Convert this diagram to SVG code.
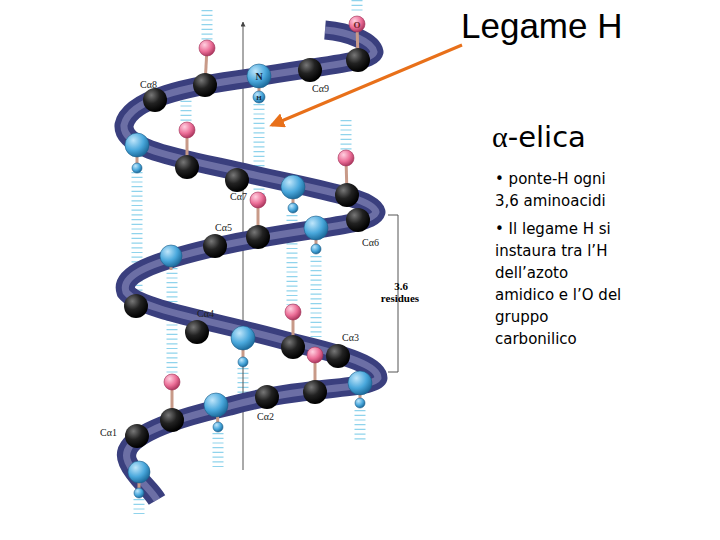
<svg xmlns="http://www.w3.org/2000/svg" width="720" height="540" viewBox="0 0 720 540">
<defs>
<radialGradient id="gb" cx="0.35" cy="0.3" r="0.7"><stop offset="0" stop-color="#777"/><stop offset="0.5" stop-color="#222"/><stop offset="1" stop-color="#000"/></radialGradient>
<radialGradient id="gl" cx="0.35" cy="0.3" r="0.7"><stop offset="0" stop-color="#bfe6fb"/><stop offset="0.6" stop-color="#4aa8dc"/><stop offset="1" stop-color="#1f6fa0"/></radialGradient>
<radialGradient id="gp" cx="0.35" cy="0.3" r="0.7"><stop offset="0" stop-color="#ffd0e0"/><stop offset="0.6" stop-color="#ec6f98"/><stop offset="1" stop-color="#b03a62"/></radialGradient>
<marker id="oa" viewBox="0 0 10 10" refX="8" refY="5" markerWidth="5" markerHeight="5" orient="auto"><path d="M0,0 L10,5 L0,10 z" fill="#e8701a"/></marker>
<marker id="ka" viewBox="0 0 10 10" refX="9" refY="5" markerWidth="5" markerHeight="5" orient="auto"><path d="M0,0 L10,5 L0,10 z" fill="#444"/></marker>
</defs>
<style>
.b{fill:url(#gb)} .l{fill:url(#gl);stroke:#1c5c88;stroke-width:0.6} .p{fill:url(#gp);stroke:#a03058;stroke-width:0.6}
.st{stroke:#c89a88;stroke-width:3}
.hb{stroke:#8fd3ec;stroke-width:11;stroke-dasharray:1.2 3.5;fill:none}
.ca{font-family:"Liberation Serif",serif;font-size:10px;fill:#222}
.t{font-family:"DejaVu Sans",sans-serif;font-size:15px;fill:#000}
</style>
<rect width="720" height="540" fill="#fff"/>
<g id="hbonds">
<line class="hb" x1="207" y1="10" x2="207" y2="40"/>
<line class="hb" x1="357" y1="0" x2="357" y2="14"/>
<line class="hb" x1="186" y1="96" x2="186" y2="124"/>
<line class="hb" x1="346" y1="120" x2="346" y2="152"/>
<line class="hb" x1="259" y1="104" x2="259" y2="195"/>
<line class="hb" x1="137" y1="172" x2="137" y2="300"/>
<line class="hb" x1="292" y1="215" x2="292" y2="305"/>
<line class="hb" x1="316" y1="256" x2="316" y2="348"/>
<line class="hb" x1="172" y1="268" x2="172" y2="375"/>
<line class="hb" x1="243" y1="368" x2="243" y2="400"/>
<line class="hb" x1="218" y1="433" x2="218" y2="470"/>
<line class="hb" x1="360" y1="410" x2="360" y2="440"/>
<line class="hb" x1="139" y1="499" x2="139" y2="514"/>
</g>
<g id="axis">
<line x1="243" y1="22" x2="243" y2="470" stroke="#555" stroke-width="1" marker-end="url(#ka)" transform="rotate(180 243 246)"/>
<path d="M388,215 H398 V372 H388" fill="none" stroke="#555" stroke-width="1"/>
<text x="401" y="290" font-family="Liberation Serif,serif" font-size="11" font-weight="bold" text-anchor="middle">3.6</text>
<text x="400" y="302" font-family="Liberation Serif,serif" font-size="11" font-weight="bold" text-anchor="middle">residues</text>
</g>
<g id="ribbon" fill="none" stroke-linejoin="round">
<path d="M325,30 C350,32 372,42 374,52 C372,62 320,66 250,78 C190,86 130,98 124,125 C122,150 180,158 250,174 C320,190 372,198 376,212 C372,226 300,228 220,246 C150,262 120,275 126,292 C140,310 220,322 290,342 C350,356 378,366 378,378 C372,390 300,386 230,406 C160,422 118,440 128,462 C135,478 150,488 157,500" stroke="#3a3f7e" stroke-width="19"/>
<path d="M325,30 C350,32 372,42 374,52 C372,62 320,66 250,78 C190,86 130,98 124,125 C122,150 180,158 250,174 C320,190 372,198 376,212 C372,226 300,228 220,246 C150,262 120,275 126,292 C140,310 220,322 290,342 C350,356 378,366 378,378 C372,390 300,386 230,406 C160,422 118,440 128,462 C135,478 150,488 157,500" stroke="#8d90c0" stroke-width="7" opacity="0.6"/>
</g>
<g id="stalks">
<line class="st" x1="207" y1="48" x2="205" y2="85"/><line class="st" x1="357" y1="24" x2="358" y2="60"/>
<line class="st" x1="187" y1="130" x2="187" y2="167"/><line class="st" x1="346" y1="158" x2="347" y2="195"/>
<line class="st" x1="258" y1="200" x2="258" y2="237"/><line class="st" x1="293" y1="312" x2="293" y2="347"/>
<line class="st" x1="315" y1="355" x2="315" y2="392"/><line class="st" x1="172" y1="382" x2="172" y2="420"/>
<line class="st" x1="259" y1="80" x2="259" y2="97" stroke="#7ab" /><line class="st" x1="137" y1="148" x2="137" y2="168" stroke="#7ab"/>
<line class="st" x1="293" y1="190" x2="293" y2="208" stroke="#7ab"/><line class="st" x1="316" y1="230" x2="316" y2="249" stroke="#7ab"/>
<line class="st" x1="171" y1="258" x2="171" y2="270" stroke="#7ab"/><line class="st" x1="243" y1="340" x2="243" y2="362" stroke="#7ab"/>
<line class="st" x1="360" y1="385" x2="360" y2="403" stroke="#7ab"/><line class="st" x1="217" y1="407" x2="218" y2="427" stroke="#7ab"/>
<line class="st" x1="139" y1="474" x2="139" y2="493" stroke="#7ab"/>
</g>
<g id="atoms">
<circle class="b" cx="155" cy="100" r="12"/><circle class="b" cx="205" cy="85" r="12"/><circle class="b" cx="310" cy="70" r="12"/><circle class="b" cx="358" cy="60" r="12"/>
<circle class="l" cx="259" cy="76" r="12"/><circle class="l" cx="259" cy="97" r="6"/>
<text x="259" y="80" font-family="Liberation Serif,serif" font-size="10" font-weight="bold" text-anchor="middle" fill="#123">N</text>
<text x="259" y="100" font-family="Liberation Serif,serif" font-size="7" font-weight="bold" text-anchor="middle" fill="#123">H</text>
<circle class="p" cx="357" cy="24" r="8"/><text x="357" y="28" font-family="Liberation Serif,serif" font-size="9" font-weight="bold" text-anchor="middle" fill="#622">O</text>
<circle class="p" cx="207" cy="48" r="8"/><circle class="p" cx="187" cy="130" r="8"/><circle class="p" cx="346" cy="158" r="8"/>
<circle class="p" cx="258" cy="200" r="8"/><circle class="p" cx="293" cy="312" r="8"/><circle class="p" cx="315" cy="355" r="8"/><circle class="p" cx="172" cy="382" r="8"/>
<circle class="l" cx="137" cy="145" r="12"/><circle class="l" cx="137" cy="168" r="5"/>
<circle class="b" cx="187" cy="167" r="12"/><circle class="b" cx="237" cy="180" r="12"/>
<circle class="l" cx="293" cy="187" r="12"/><circle class="l" cx="293" cy="208" r="5"/>
<circle class="b" cx="347" cy="195" r="12"/><circle class="b" cx="358" cy="220" r="12"/>
<circle class="l" cx="316" cy="228" r="12"/><circle class="l" cx="316" cy="249" r="5"/>
<circle class="b" cx="258" cy="237" r="12"/><circle class="b" cx="215" cy="246" r="12"/>
<circle class="l" cx="171" cy="256" r="11"/>
<circle class="b" cx="136" cy="306" r="12"/><circle class="b" cx="197" cy="332" r="12"/>
<circle class="l" cx="243" cy="338" r="12"/><circle class="l" cx="243" cy="362" r="5"/>
<circle class="b" cx="293" cy="347" r="12"/><circle class="b" cx="338" cy="356" r="12"/>
<circle class="l" cx="360" cy="383" r="12"/><circle class="l" cx="360" cy="403" r="5"/>
<circle class="b" cx="315" cy="392" r="12"/><circle class="b" cx="267" cy="397" r="12"/>
<circle class="l" cx="216" cy="405" r="12"/><circle class="l" cx="218" cy="427" r="5"/>
<circle class="b" cx="172" cy="420" r="12"/><circle class="b" cx="137" cy="436" r="12"/>
<circle class="l" cx="139" cy="472" r="11"/><circle class="l" cx="139" cy="493" r="5"/>
</g>
<g id="labels">
<text class="ca" x="140" y="88">Cα8</text><text class="ca" x="312" y="92">Cα9</text>
<text class="ca" x="230" y="200">Cα7</text><text class="ca" x="215" y="231">Cα5</text>
<text class="ca" x="362" y="246">Cα6</text><text class="ca" x="197" y="317">Cα4</text>
<text class="ca" x="342" y="341">Cα3</text><text class="ca" x="257" y="420">Cα2</text>
<text class="ca" x="100" y="436">Cα1</text>
</g>
<g id="arrow"><line x1="462" y1="45" x2="272" y2="125" stroke="#e8701a" stroke-width="3" marker-end="url(#oa)"/></g>
<g id="text">
<text x="461" y="38" font-family="Liberation Sans,Arial,sans-serif" font-size="35">Legame H</text>
<text x="492" y="147" font-family="Liberation Serif,serif" font-size="30">α<tspan font-family="DejaVu Sans,sans-serif" font-size="29">-elica</tspan></text>
<text class="t" x="495" y="184">• ponte-H ogni</text>
<text class="t" x="495" y="206">3,6 aminoacidi</text>
<text class="t" x="495" y="234">• Il legame H si</text>
<text class="t" x="495" y="256">instaura tra l’H</text>
<text class="t" x="495" y="278">dell’azoto</text>
<text class="t" x="495" y="300">amidico e l’O del</text>
<text class="t" x="495" y="322">gruppo</text>
<text class="t" x="495" y="344">carbonilico</text>
</g>
</svg>
